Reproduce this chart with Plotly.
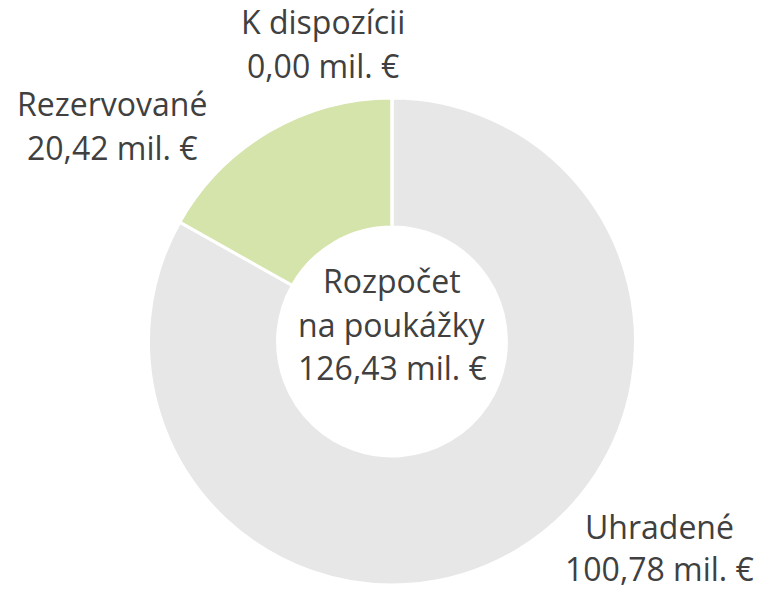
import plotly.graph_objects as go

categories = ["Uhradené", "Rezervované", "K dispozícii"]
values = [100.78, 20.42, 0.00]
value_labels = ["100,78 mil. €", "20,42 mil. €", "0,00 mil. €"]
center_lines = ["Rozpočet", "na poukážky", "126,43 mil. €"]
colors = ["#e7e7e7", "#d4e4ab", "#c9c9c9"]

OFF = 8  # default page body margin
W, H = 763 - OFF, 590 - OFF
L, R, T, B = 148 - OFF, 127, 98 - OFF, 5
pw, ph = W - L - R, H - T - B

def px(x):
    return (x - OFF - L) / pw

def py(y):
    return (H - B - (y - OFF)) / ph

fig = go.Figure(go.Pie(
    labels=categories,
    values=values,
    sort=False,
    direction="clockwise",
    rotation=0,
    hole=0.47,
    marker=dict(colors=colors, line=dict(color="white", width=3)),
    textinfo="none",
    showlegend=False,
))

FONT = "Open Sans, Liberation Sans, sans-serif"
TC = "#404040"
FS = 32
label_pos = {
    "Uhradené": (659, 526, 568),
    "Rezervované": (112, 103, 147),
    "K dispozícii": (323, 22, 66),
}
anns = []
for cat, val in zip(categories, value_labels):
    x, y1, y2 = label_pos[cat]
    for txt, yy in ((cat, y1), (val, y2)):
        anns.append(dict(text=txt, x=px(x), y=py(yy), xref="paper", yref="paper",
                         showarrow=False, xanchor="center", yanchor="middle",
                         font=dict(family=FONT, size=FS, color=TC)))
for txt, yy in zip(center_lines, (280, 324, 367)):
    anns.append(dict(text=txt, x=px(392), y=py(yy), xref="paper", yref="paper",
                     showarrow=False, xanchor="center", yanchor="middle",
                     font=dict(family=FONT, size=FS, color=TC)))

fig.update_layout(
    width=W, height=H,
    margin=dict(l=L, r=R, t=T, b=B),
    paper_bgcolor="white", plot_bgcolor="white",
    annotations=anns,
)
fig.write_html("out.html")
